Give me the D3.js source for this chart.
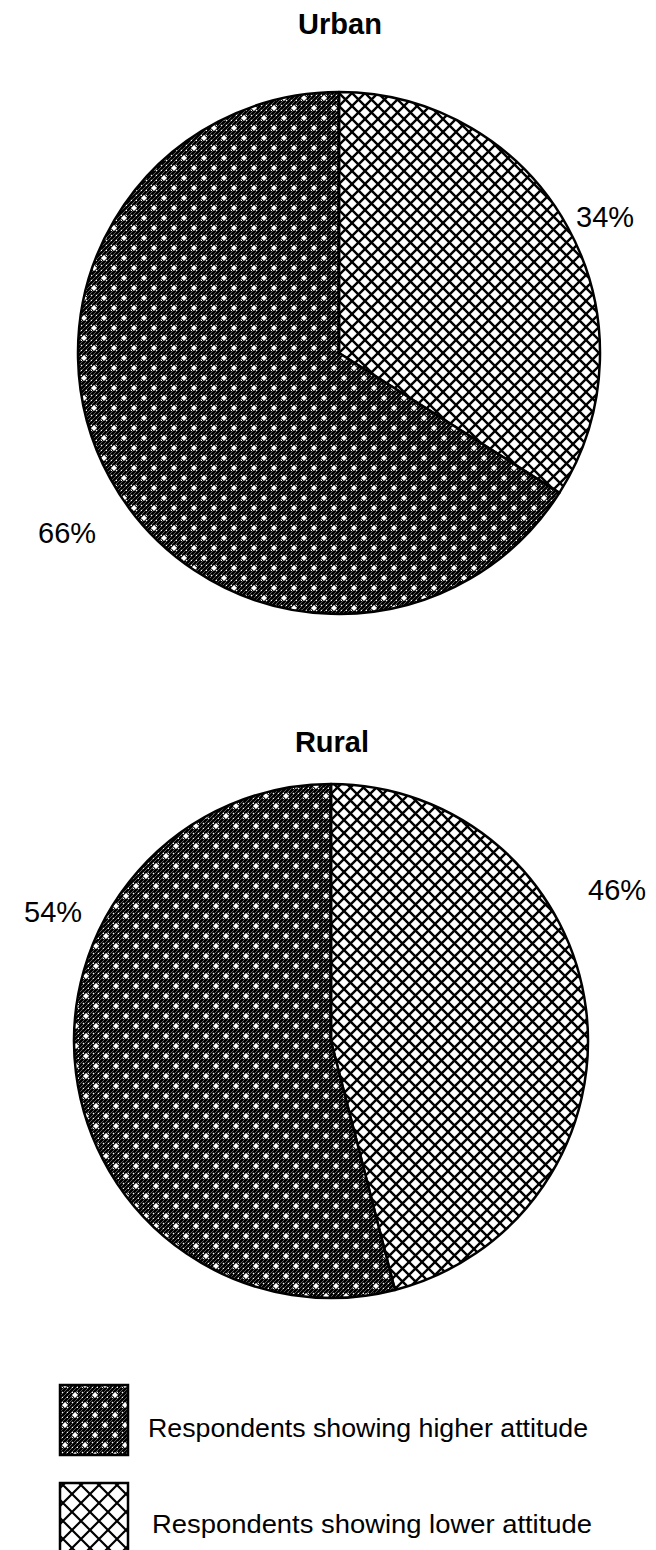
<!DOCTYPE html>
<html>
<head>
<meta charset="utf-8">
<script src="https://cdn.jsdelivr.net/npm/d3@7"></script>
<style>
  html, body { margin: 0; padding: 0; background: #fff; }
  svg { display: block; }
  text { font-family: "Liberation Sans", Arial, sans-serif; fill: #000; }
</style>
</head>
<body>
<svg id="chart" width="656" height="1550"></svg>
<script>
// Attitude groups (legend order) and their shares per area
const groups = ["Respondents showing higher attitude", "Respondents showing lower attitude"];
const areas = ["Urban", "Rural"];
const higherShare = [66, 54];
const lowerShare = [34, 46];

const svg = d3.select("#chart");
const defs = svg.append("defs");

// Dense dark texture: black ground, fine white hatching, dot grid and white diamonds
function darkPattern(id) {
  const p = defs.append("pattern")
    .attr("id", id).attr("patternUnits", "userSpaceOnUse")
    .attr("width", 20).attr("height", 20);
  p.append("rect").attr("width", 20).attr("height", 20).attr("fill", "#000");
  for (let k = -20; k <= 40; k += 4) {
    p.append("line")
      .attr("x1", k).attr("y1", 20).attr("x2", k + 20).attr("y2", 0)
      .attr("stroke", "#fff").attr("stroke-width", 0.8).attr("stroke-opacity", 0.45);
  }
  for (let gx = 0; gx < 20; gx += 5) {
    for (let gy = 0; gy < 20; gy += 5) {
      p.append("rect").attr("x", gx + 1.8).attr("y", gy + 1.8)
        .attr("width", 1.2).attr("height", 1.2).attr("fill", "#fff");
    }
  }
  [[5, 5], [15, 15]].forEach(([cx, cy]) => {
    p.append("path")
      .attr("d", `M${cx},${cy - 3}L${cx + 3},${cy}L${cx},${cy + 3}L${cx - 3},${cy}Z`)
      .attr("fill", "#fff");
  });
}

// Open diagonal cross-hatch
function crossPattern(id, size, width) {
  const p = defs.append("pattern")
    .attr("id", id).attr("patternUnits", "userSpaceOnUse")
    .attr("width", size).attr("height", size);
  p.append("rect").attr("width", size).attr("height", size).attr("fill", "#fff");
  p.append("path")
    .attr("d", `M-2,-2L${size + 2},${size + 2}M${size + 2},-2L-2,${size + 2}`)
    .attr("stroke", "#000").attr("stroke-width", width);
}

darkPattern("pat-high");
crossPattern("pat-low", 13, 2.4);
crossPattern("pat-low-key", 18, 2.2);

const fills = { higher: "url(#pat-high)", lower: "url(#pat-low)" };
const keyFills = { higher: "url(#pat-high)", lower: "url(#pat-low-key)" };

// Pie layout: lower share drawn first, clockwise from 12 o'clock
const pie = d3.pie().sort(null).value(d => d.value);

const layouts = [
  { cx: 339, cy: 353, r: 261, titleY: 34,
    labels: { lower: [576, 227], higher: [38, 543] } },
  { cx: 331, cy: 1041, r: 257, titleY: 752,
    labels: { lower: [588, 900], higher: [24, 922] } }
];

areas.forEach((area, i) => {
  const L = layouts[i];
  const data = [
    { key: "lower", value: lowerShare[i] },
    { key: "higher", value: higherShare[i] }
  ];
  const arc = d3.arc().innerRadius(0).outerRadius(L.r);
  const g = svg.append("g").attr("transform", `translate(${L.cx},${L.cy})`);

  g.selectAll("path.slice")
    .data(pie(data))
    .join("path")
    .attr("class", "slice")
    .attr("d", arc)
    .attr("fill", d => fills[d.data.key])
    .attr("stroke", "#000")
    .attr("stroke-width", 2.5)
    .attr("stroke-linejoin", "round");

  svg.append("text")
    .attr("x", L.cx + 1).attr("y", L.titleY)
    .attr("text-anchor", "middle")
    .attr("font-size", 29).attr("font-weight", "bold")
    .text(area);

  data.forEach(d => {
    const [x, y] = L.labels[d.key];
    svg.append("text")
      .attr("x", x).attr("y", y)
      .attr("font-size", 29)
      .text(d.value + "%");
  });
});

// Legend
const legendItems = [
  { key: "higher", label: groups[0], y: 1385, tx: 148, ty: 1437 },
  { key: "lower", label: groups[1], y: 1483, tx: 152, ty: 1533 }
];
const legend = svg.append("g");
legendItems.forEach(it => {
  legend.append("rect")
    .attr("x", 60).attr("y", it.y)
    .attr("width", 68).attr("height", 70)
    .attr("fill", keyFills[it.key])
    .attr("stroke", "#000").attr("stroke-width", 2.5);
  legend.append("text")
    .attr("x", it.tx).attr("y", it.ty)
    .attr("font-size", 25)
    .attr("textLength", 440).attr("lengthAdjust", "spacingAndGlyphs")
    .text(it.label);
});
</script>
</body>
</html>
